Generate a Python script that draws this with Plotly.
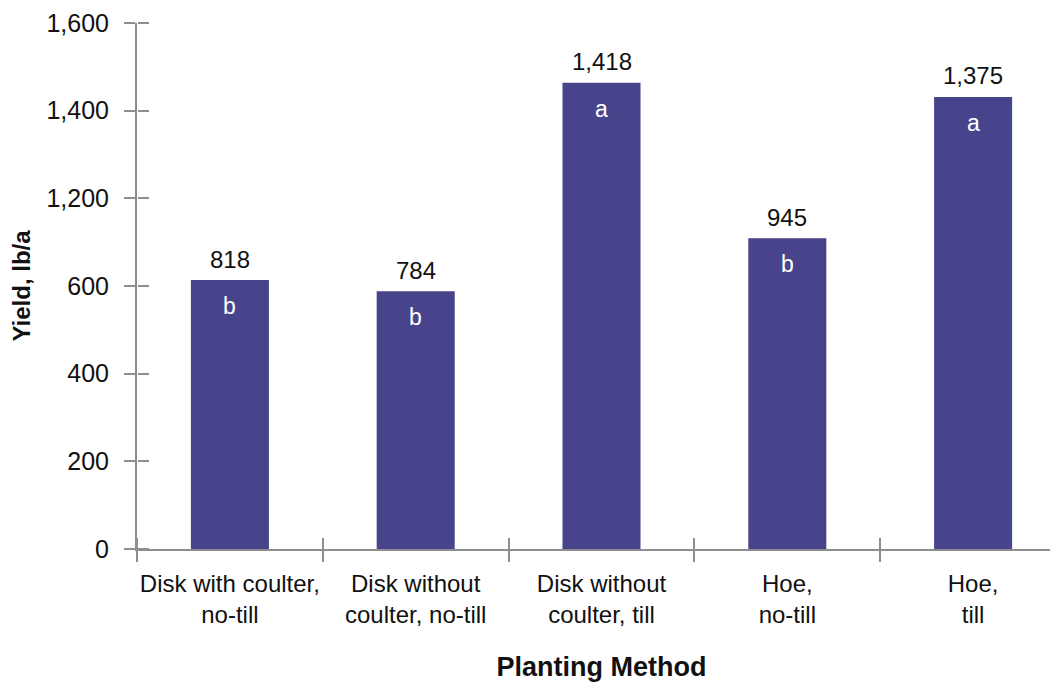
import plotly.graph_objects as go

categories = ["Disk with coulter,<br>no-till", "Disk without<br>coulter, no-till",
              "Disk without<br>coulter, till", "Hoe,<br>no-till", "Hoe,<br>till"]
yields = [818, 784, 1418, 945, 1375]
letters = ["b", "b", "a", "b", "a"]
ytick_text = ["0", "200", "400", "600", "1,200", "1,400", "1,600"]
y_max = 1600

BAR = "#47448b"
AXIS = "#8e8e8e"
FONT = "Liberation Sans, Arial, Helvetica, sans-serif"
TXT = "#111111"

n_ticks = len(ytick_text)
ytick_vals = [y_max * i / (n_ticks - 1) for i in range(n_ticks)]
xb = [i - 0.5 for i in range(len(categories) + 1)]

fig = go.Figure()
fig.add_trace(go.Bar(x=categories, y=yields, marker=dict(color=BAR, line=dict(width=0)),
                     hoverinfo="x+y"))
# helper invisible trace for the overlay (inner half of the crossing ticks)
fig.add_trace(go.Scatter(x=[xb[0], xb[-1]], y=[0, y_max], xaxis="x2", yaxis="y2",
                         mode="markers", marker=dict(opacity=0), hoverinfo="skip", showlegend=False))

for c, v, l in zip(categories, yields, letters):
    fig.add_annotation(x=c, y=v, text=f"{v:,}", showarrow=False, yanchor="middle", yshift=21,
                       font=dict(size=24, color=TXT, family=FONT))
    fig.add_annotation(x=c, y=v, text=l, showarrow=False, yanchor="middle", yshift=-26,
                       font=dict(size=23, color="white", family=FONT))

fig.update_layout(
    width=1058, height=682,
    margin=dict(l=129, r=0, t=15, b=141, autoexpand=False),
    paper_bgcolor="white", plot_bgcolor="white",
    showlegend=False, bargap=0.58,
    font=dict(family=FONT, color=TXT),
    xaxis=dict(type="category", range=[-0.5, len(categories) - 0.5], automargin=False,
               showline=True, linecolor=AXIS, linewidth=2, tickangle=0,
               ticks="outside", tickson="boundaries", ticklen=11, tickwidth=2, tickcolor=AXIS,
               tickfont=dict(size=24, family=FONT, color=TXT), ticklabelstandoff=12,
               showgrid=False, zeroline=False,
               title=dict(text="<b>Planting Method</b>", font=dict(size=27, family=FONT, color=TXT),
                          standoff=30)),
    yaxis=dict(range=[0, y_max], tickvals=ytick_vals, ticktext=ytick_text, automargin=False,
               showline=True, linecolor=AXIS, linewidth=2,
               ticks="outside", ticklen=11, tickwidth=2, tickcolor=AXIS,
               tickfont=dict(size=25, family=FONT, color=TXT), ticklabelstandoff=10,
               showgrid=False, zeroline=False,
               title=dict(text="<b>Yield, lb/a</b>", font=dict(size=24, family=FONT, color=TXT),
                          standoff=12)),
    xaxis2=dict(overlaying="x", range=[xb[0], xb[-1]], tickvals=xb[:-1], showticklabels=False,
                ticks="outside", ticklen=11, tickwidth=2, tickcolor=AXIS, showgrid=False,
                zeroline=False, showline=False, side="top", anchor="free", position=0,
                automargin=False),
    yaxis2=dict(overlaying="y", range=[0, y_max], tickvals=ytick_vals, showticklabels=False,
                ticks="outside", ticklen=11, tickwidth=2, tickcolor=AXIS, showgrid=False,
                zeroline=False, showline=False, side="right", anchor="free", position=0,
                automargin=False),
)

fig.write_html("out.html")
